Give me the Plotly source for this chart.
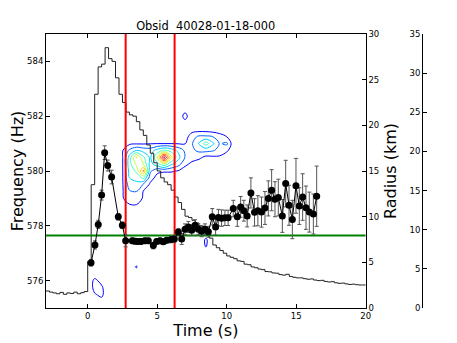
import numpy as np
import plotly.graph_objects as go

# light curve, 0.25 s bins starting at -3 s (drawn in frequency-axis units)
lc_start = -3.0
lc_bin = 0.25
lc_level = [575.62, 575.58, 575.55, 575.52, 575.57, 575.50, 575.55, 575.53, 575.58, 575.52, 575.56, 575.60,
            576.7, 579.5, 582.8, 583.8, 583.9, 584.5, 584.1, 584.0, 583.4, 582.8, 582.5, 582.15,
            582.05, 582.0, 581.8, 581.5,
            581.3, 580.95, 580.65, 580.3, 580.0, 579.75, 579.6, 579.5, 579.3, 579.05, 578.85, 578.6,
            578.35, 578.3, 578.2, 578.1, 578.0, 577.95, 577.7, 577.55, 577.3, 577.2, 577.1, 577.0,
            576.9, 576.85, 576.8, 576.72, 576.7, 576.6, 576.58, 576.5, 576.47, 576.42, 576.4, 576.33,
            576.32, 576.28, 576.27, 576.22, 576.2, 576.23, 576.15, 576.12, 576.1, 576.1, 576.07, 576.05,
            576.06, 576.02, 576.0, 576.01, 575.97, 575.95, 575.96, 575.92, 575.9, 575.91, 575.88, 575.86,
            575.87, 575.85, 575.84, 575.84]

# burst oscillation frequency measurements
freq_t = [0.24, 0.52, 0.76, 1.00, 1.22, 1.44, 1.72, 2.20, 2.49, 2.73, 3.21, 3.40, 3.59, 3.83, 4.12, 4.36,
          4.72, 4.96, 5.20, 5.44, 5.68, 5.99, 6.23, 6.52, 6.76, 7.00, 7.24, 7.48, 7.72, 7.96,
          8.20, 8.44, 8.68, 8.96, 9.20, 9.40, 9.63, 9.87, 10.10, 10.47, 10.76, 11.00, 11.23, 11.47, 11.74,
          12.00, 12.24, 12.50, 12.75, 12.99, 13.23, 13.47, 13.71, 14.00, 14.24, 14.48, 14.72, 14.98,
          15.22, 15.46, 15.70, 15.94, 16.23, 16.47]
freq_hz = [576.65, 577.30, 578.05, 579.12, 580.67, 580.20, 579.78, 578.33, 578.02, 577.45,
           577.45, 577.44, 577.43, 577.43, 577.45, 577.45, 577.28, 577.43, 577.45, 577.42, 577.47, 577.50, 577.52,
           577.77, 577.52, 577.87, 577.96, 577.84, 578.02, 577.87, 577.80, 577.87, 577.78, 578.33,
           577.96, 578.30, 578.28, 578.29, 578.29, 578.63, 578.33, 578.69, 578.55, 578.36, 579.20,
           578.49, 578.55, 578.50, 578.65, 579.00, 579.30, 578.97, 579.03, 578.36, 579.54, 578.75, 578.23, 579.46,
           578.72, 579.05, 578.66, 578.50, 578.43, 579.08]
freq_err = [0.12, 0.15, 0.15, 0.18, 0.25, 0.2, 0.25, 0.12, 0.12, 0.22,
            0.1, 0.1, 0.1, 0.1, 0.1, 0.1, 0.12, 0.1, 0.1, 0.1, 0.1, 0.12, 0.12,
            0.12, 0.2, 0.2, 0.2, 0.2, 0.2, 0.2, 0.2, 0.2, 0.2, 0.3,
            0.3, 0.3, 0.3, 0.28, 0.28, 0.3, 0.35, 0.38, 0.38, 0.4, 0.55,
            0.5, 0.55, 0.55, 0.6, 0.64, 0.75, 0.64, 0.67, 0.6, 0.85, 0.73, 0.7, 1.0,
            0.67, 0.85, 0.79, 0.73, 0.73, 1.1]

# dynamic power spectrum grid
grid_t = [0.0, 0.5, 1.0, 1.5, 2.0, 2.5, 3.0, 3.5, 4.0, 4.5, 5.0, 5.5, 6.0, 6.5, 7.0, 7.5, 8.0, 8.5, 9.0, 9.5, 10.0, 10.5]
grid_f = np.arange(575.25, 582.51, 0.25)

# main power region: one list per time column, frequencies 578.5 ... 581.75
blob_t = [2.0, 2.5, 3.0, 3.5, 4.0, 4.5, 5.0, 5.5, 6.0, 6.5, 7.0, 7.5, 8.0, 8.5, 9.0, 9.5, 10.0, 10.5]
blob_f = [578.5, 578.75, 579.0, 579.25, 579.5, 579.75, 580.0, 580.25, 580.5, 580.75, 581.0, 581.25, 581.5, 581.75]
blob_power = [
    [0, 0, 0, 0, 0, 0, 0, 0, 0, 0, 0, 0, 0, 0],
    [0.3, 0.9, 0.9, 0.9, 0.9, 0.9, 0.9, 0.9, 0.9, 0.9, 0.5, 0, 0, 0],
    [0.2, 0.9, 1.5, 1.9, 2.4, 3.0, 3.3, 3.6, 3.4, 2.2, 0.8, 0.2, 0, 0],
    [0.3, 0.95, 1.5, 2.0, 2.6, 3.4, 4.2, 5.2, 6.1, 3.0, 0.9, 0.2, 0, 0],
    [0.1, 0.5, 0.9, 0.95, 1.9, 4.2, 7.2, 5.0, 4.2, 2.6, 0.9, 0.2, 0, 0],
    [0, 0, 0.2, 0.4, 0.8, 1.4, 2.2, 2.6, 2.8, 2.5, 0.95, 0.2, 0, 0],
    [0, 0, 0, 0, 0.3, 0.7, 1.2, 3.6, 5.0, 3.4, 1.0, 0.2, 0, 0],
    [0, 0, 0, 0, 0.2, 0.5, 1.1, 4.8, 9.3, 4.2, 1.0, 0.2, 0, 0],
    [0, 0, 0, 0, 0.1, 0.5, 1.1, 3.2, 5.4, 3.6, 1.0, 0.2, 0, 0],
    [0, 0, 0, 0, 0, 0.3, 0.95, 2.4, 3.4, 2.8, 0.95, 0.2, 0, 0],
    [0, 0, 0, 0, 0, 0, 0.4, 1.3, 1.95, 1.8, 0.95, 0.5, 0, 0],
    [0, 0, 0, 0, 0, 0, 0.1, 0.7, 1.5, 1.8, 1.9, 1.6, 0.6, 0],
    [0, 0, 0, 0, 0, 0, 0, 0.3, 1.3, 2.2, 3.1, 2.2, 0.6, 0],
    [0, 0, 0, 0, 0, 0, 0, 0.2, 0.7, 2.3, 4.5, 2.2, 0.6, 0],
    [0, 0, 0, 0, 0, 0, 0, 0.1, 0.8, 2.1, 3.2, 2.0, 0.5, 0],
    [0, 0, 0, 0, 0, 0, 0, 0, 0.8, 1.7, 1.9, 1.5, 0.4, 0],
    [0, 0, 0, 0, 0, 0, 0, 0, 0.3, 1.2, 2.2, 1.0, 0.2, 0],
    [0, 0, 0, 0, 0, 0, 0, 0, 0, 0.3, 0.3, 0.1, 0, 0],
]

# small isolated power islands
isl_t = [7.0, 7.0, 7.0, 0.5, 0.5, 0.5, 0.5, 1.0, 1.0, 1.0, 1.0, 3.5, 8.5, 8.5]
isl_f = [581.75, 582.0, 582.25, 575.5, 575.75, 576.0, 576.25, 575.25, 575.5, 575.75, 576.0, 576.5, 577.25, 577.5]
isl_p = [0.5, 1.5, 0.5, 0.9, 1.4, 1.3, 0.3, 0.6, 1.3, 1.2, 0.6, 1.15, 1.1, 1.2]

# marked times and reference frequency
red_t = [2.73, 6.25]
green_hz = 577.65

x_range = [-3, 20]
f_range = [575, 585]
r_range = [0, 30]
r2_range = [0, 35]

# build power grid
z = np.zeros((len(grid_f), len(grid_t)))
fi0 = int(round((blob_f[0] - grid_f[0]) / 0.25))
ti0 = grid_t.index(blob_t[0])
z[fi0:fi0 + len(blob_f), ti0:ti0 + len(blob_t)] = np.array(blob_power).T
for t, f, p in zip(isl_t, isl_f, isl_p):
    z[int(round((f - grid_f[0]) / 0.25)), grid_t.index(t)] = p

lc_x = [lc_start + lc_bin * i for i in range(len(lc_level))] + [x_range[1]]
lc_y = lc_level + [lc_level[-1]]

jet = [[0.0, 'rgb(0,0,255)'], [0.125, 'rgb(0,97,255)'], [0.25, 'rgb(0,209,255)'],
       [0.375, 'rgb(66,255,190)'], [0.5, 'rgb(190,255,66)'], [0.625, 'rgb(255,210,0)'],
       [0.75, 'rgb(255,97,0)'], [0.875, 'rgb(240,0,0)'], [1.0, 'rgb(128,0,0)']]

fig = go.Figure()

fig.add_trace(go.Contour(
    x=grid_t, y=grid_f, z=z,
    contours=dict(start=1, end=9, size=1, coloring='lines'),
    colorscale=jet, showscale=False, line=dict(width=1, smoothing=1.0),
    hoverinfo='skip'
))

fig.add_trace(go.Scatter(
    x=lc_x, y=lc_y, mode='lines', line=dict(color='#222222', width=1, shape='hv'),
    hoverinfo='skip'
))

for t in red_t:
    fig.add_trace(go.Scatter(x=[t, t], y=f_range, mode='lines', line=dict(color='red', width=2)))

fig.add_trace(go.Scatter(x=x_range, y=[green_hz, green_hz], mode='lines',
                         line=dict(color='green', width=2)))

fig.add_trace(go.Scatter(
    x=freq_t, y=freq_hz, mode='lines+markers',
    line=dict(color='black', width=1),
    marker=dict(color='black', size=7),
    error_y=dict(type='data', array=freq_err, color='#555555', thickness=1, width=2)
))

# dummy traces so the radius axes are drawn
fig.add_trace(go.Scatter(x=[None], y=[None], yaxis='y2', showlegend=False))
fig.add_trace(go.Scatter(x=[None], y=[None], yaxis='y3', showlegend=False))

font = 'DejaVu Sans'
ax = dict(showline=True, linecolor='black', linewidth=1, ticks='inside', ticklen=4,
          tickcolor='black', showgrid=False, zeroline=False, automargin=False,
          tickfont=dict(family=font, size=8.5, color='black'))

# the page body adds an 8 px offset, so the figure is 8 px smaller each way
fig.update_layout(
    width=449, height=335,
    margin=dict(l=38, r=22, t=26, b=35),
    paper_bgcolor='white', plot_bgcolor='white',
    showlegend=False,
    font=dict(family=font, color='black'),
    title=dict(text='Obsid\u00a0 40028-01-18-000', x=0.4105, xref='paper', xanchor='center',
               y=1 - 18.5 / 335, yref='container', yanchor='middle',
               font=dict(family=font, size=11.4, color='black')),
    xaxis=dict(ax, domain=[0, 0.822], range=x_range, dtick=5, mirror='ticks',
               title=dict(text='Time (s)', font=dict(family=font, size=16), standoff=4)),
    yaxis=dict(ax, range=f_range, tickvals=[576, 578, 580, 582, 584],
               title=dict(text='Frequency (Hz)', font=dict(family=font, size=16), standoff=0)),
    yaxis2=dict(ax, range=r_range, dtick=5, overlaying='y', side='right', anchor='x',
                title=dict(text='Radius (km)', font=dict(family=font, size=16), standoff=6)),
    yaxis3=dict(ax, range=r2_range, dtick=5, overlaying='y', side='left', anchor='free',
                position=0.9666),
)

fig.write_html('out.html')
